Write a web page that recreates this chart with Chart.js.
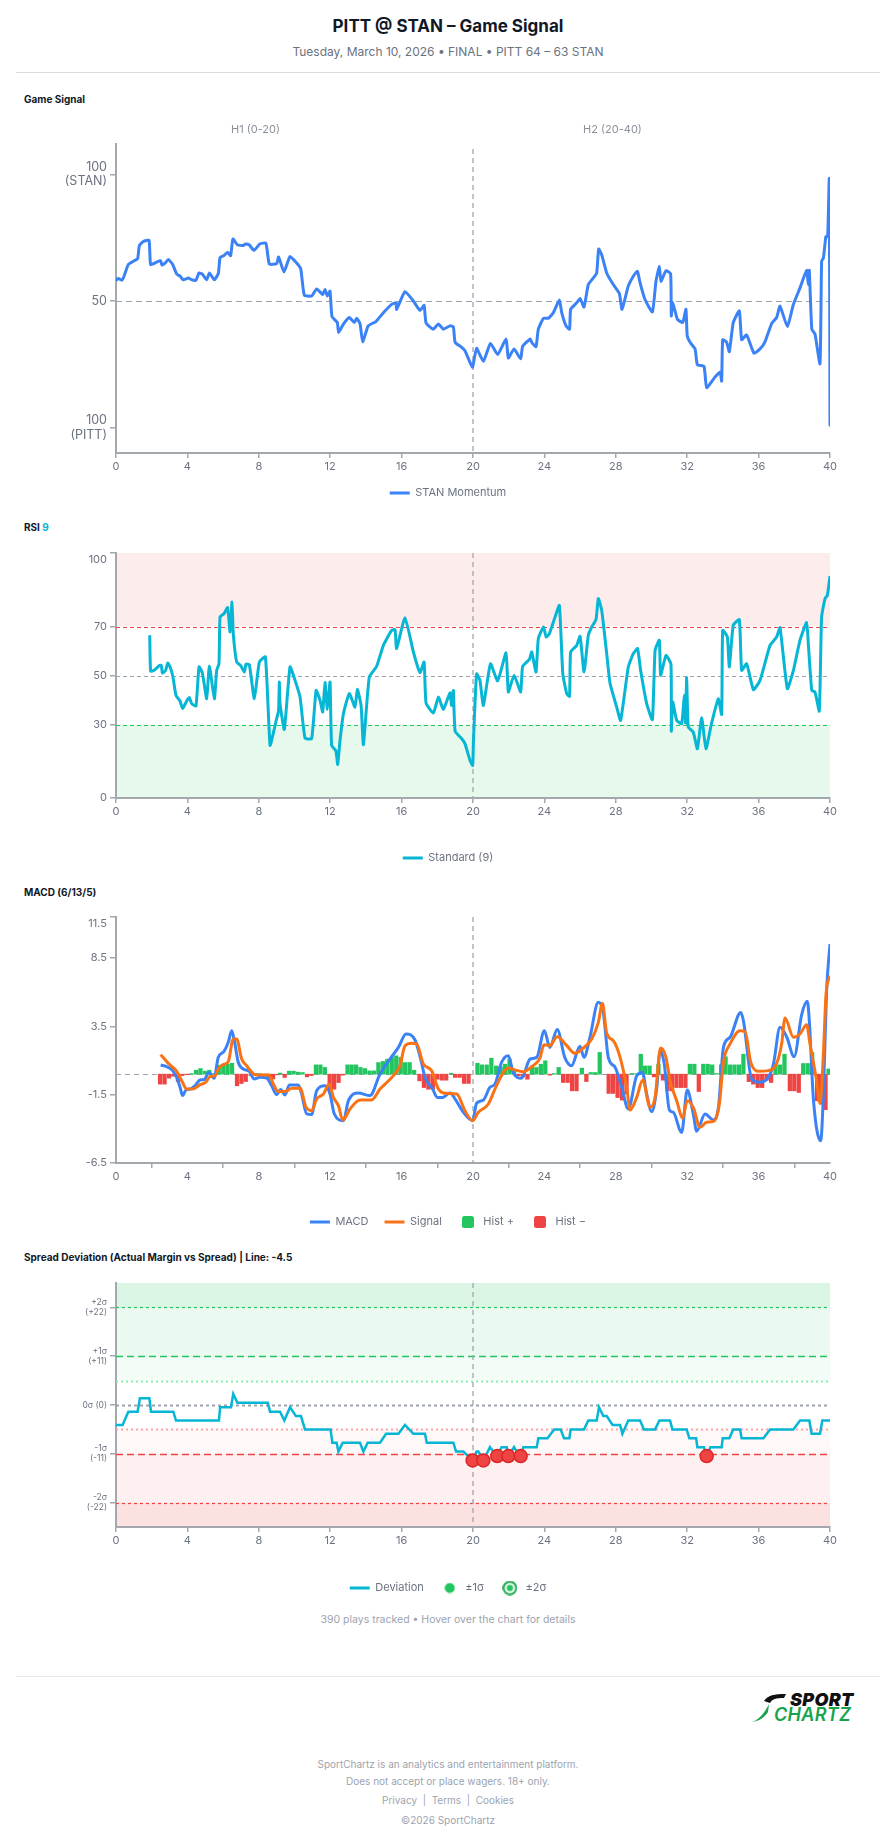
<!DOCTYPE html>
<html>
<head>
<meta charset="utf-8">
<title>PITT @ STAN – Game Signal</title>
<script src="https://cdn.jsdelivr.net/npm/chart.js@4.4.1/dist/chart.umd.min.js"></script>
<style>
  body { margin: 0; background: #fff; font-family: Inter, "Noto Sans", sans-serif; width: 896px; height: 1845px; position: relative; overflow: hidden; color: #111827; }
  .abs { position: absolute; }
  .center { left: 0; width: 896px; text-align: center; }
  .title { top: 16px; font-size: 17px; line-height: 20px; font-weight: 700; }
  .sub { top: 44px; font-size: 12px; line-height: 16px; color: #6b7280; }
  .rule { left: 16px; width: 864px; height: 1px; background: #d9dce1; }
  .label { left: 24px; font-size: 10px; line-height: 14px; font-weight: 700; color: #111827; }
  .chart { left: 0; width: 896px; }
  .note { font-size: 10.5px; line-height: 16px; color: #9ca3af; }
  .foot { font-size: 10px; line-height: 14px; color: #9ca3af; }
  .logo { left: 750px; top: 1692px; width: 124px; height: 32px; }
  .logo .l1 { position: absolute; left: 40px; top: 0; font-size: 18px; line-height: 16px; font-weight: 900; font-style: italic; color: #111; letter-spacing: 0.3px; }
  .logo .l2 { position: absolute; left: 24px; top: 15px; font-size: 18px; line-height: 16px; font-weight: 600; font-style: italic; color: #16a34a; letter-spacing: 0.3px; }
</style>
</head>
<body>
<div class="abs center title">PITT @ STAN – Game Signal</div>
<div class="abs center sub">Tuesday, March 10, 2026 • FINAL • PITT 64 – 63 STAN</div>
<div class="abs rule" style="top:72px"></div>

<div class="abs label" style="top:92px">Game Signal</div>
<div class="abs chart" style="top:110px;height:400px"><canvas id="signal"></canvas></div>

<div class="abs label" style="top:520px">RSI <span style="color:#06b6d4">9</span></div>
<div class="abs chart" style="top:535px;height:340px"><canvas id="rsi"></canvas></div>

<div class="abs label" style="top:885px">MACD (6/13/5)</div>
<div class="abs chart" style="top:900px;height:340px"><canvas id="macd"></canvas></div>

<div class="abs label" style="top:1250px">Spread Deviation (Actual Margin vs Spread) | Line: -4.5</div>
<div class="abs chart" style="top:1265px;height:340px"><canvas id="dev"></canvas></div>

<div class="abs center note" style="top:1612px">390 plays tracked • Hover over the chart for details</div>

<div class="abs rule" style="top:1676px;background:#e5e7eb"></div>
<div class="abs logo">
  <svg width="40" height="32" style="position:absolute;left:0;top:0">
    <path d="M14 9 C18 3 24 2 36 2 L34 6 C26 6 22 7 20 11 Z" fill="#111"/>
    <path d="M19 12 C15 20 10 27 2 30 C9 29 14 26 18 20 Z" fill="#16a34a"/>
  </svg>
  <div class="l1">SPORT</div>
  <div class="l2">CHARTZ</div>
</div>
<div class="abs center foot" style="top:1757px">SportChartz is an analytics and entertainment platform.</div>
<div class="abs center foot" style="top:1774px">Does not accept or place wagers. 18+ only.</div>
<div class="abs center foot" style="top:1793px">Privacy &nbsp;|&nbsp; Terms &nbsp;|&nbsp; Cookies</div>
<div class="abs center foot" style="top:1813px">©2026 SportChartz</div>

<script>
// ---- Game signal (0 = PITT, 100 = STAN) ----
const sigMin = [0, 0.13, 0.32, 0.45, 0.69, 0.97, 1.21, 1.31, 1.53, 1.85, 1.94, 2.28, 2.5, 2.58, 2.75, 2.93, 3.17, 3.4, 3.59, 3.77,
  4.05, 4.24, 4.48, 4.65, 4.84, 5.08, 5.23, 5.51, 5.73, 5.83, 6.05, 6.25, 6.42, 6.55, 6.8, 7.13, 7.26, 7.47, 7.73, 8.07,
  8.4, 8.59, 9.0, 9.11, 9.41, 9.75, 10.12, 10.35, 10.55, 10.96, 11.24, 11.58, 11.71, 11.84, 11.99, 12.1, 12.4, 12.47, 12.74, 13.07,
  13.35, 13.48, 13.67, 13.82, 14.13, 14.56, 14.98, 15.44, 15.69, 15.72, 16.19, 16.66, 17.03, 17.26, 17.37, 17.78, 18.06, 18.34, 18.71, 18.9,
  19.0, 19.37, 19.55, 19.83, 19.98, 20.2, 20.58, 20.98, 21.38, 21.85, 21.98, 22.3, 22.67, 22.78, 23.2, 23.29, 23.53, 23.66, 23.95, 24.22,
  24.5, 24.84, 24.97, 25.21, 25.41, 25.47, 25.81, 26.0, 26.22, 26.46, 26.74, 26.93, 27.04, 27.21, 27.49, 27.86, 28.2, 28.35, 28.7, 28.98,
  29.21, 29.36, 29.63, 30.05, 30.25, 30.44, 30.53, 30.81, 31.07, 31.11, 31.19, 31.45, 31.75, 31.93, 32.0, 32.16, 32.44, 32.57, 32.94, 33.09,
  33.56, 33.84, 33.93, 33.99, 34.21, 34.36, 34.58, 34.92, 35.05, 35.33, 35.74, 36.08, 36.36, 36.73, 37.01, 37.2, 37.61, 37.95, 38.32, 38.69,
  38.79, 38.84, 38.98, 39.16, 39.44, 39.53, 39.63, 39.77, 39.87, 39.96, 40.0];
const sigVal = [58.2, 58.9, 58.2, 59.8, 64.4, 65.7, 66.7, 71.9, 73.5, 74.0, 64.4, 65.4, 65.9, 64.2, 65.0, 66.4, 64.5, 60.7, 59.8, 58.4,
  59.1, 58.4, 58.2, 61.1, 60.6, 58.4, 61.1, 58.4, 60.8, 67.2, 68.0, 69.3, 67.9, 74.5, 72.2, 71.9, 72.5, 72.1, 70.0, 72.6,
  72.8, 64.6, 64.8, 67.4, 61.5, 67.6, 65.0, 62.7, 52.3, 52.0, 54.8, 52.6, 54.6, 52.0, 53.9, 43.9, 41.5, 37.6, 40.9, 43.5,
  41.5, 43.2, 41.1, 33.9, 40.2, 41.9, 45.4, 48.7, 49.3, 46.7, 53.7, 50.0, 46.3, 48.3, 41.3, 38.9, 40.9, 38.9, 40.2, 39.8,
  33.7, 31.7, 30.4, 25.8, 23.9, 31.3, 26.2, 33.3, 28.9, 35.0, 27.5, 31.1, 27.2, 32.1, 35.0, 33.7, 32.0, 38.9, 43.2, 43.2,
  45.4, 50.4, 45.4, 40.2, 38.9, 46.7, 49.3, 51.0, 47.6, 56.5, 59.1, 61.1, 70.5, 68.3, 61.1, 56.5, 53.0, 46.7, 55.9, 59.8,
  61.7, 57.2, 50.7, 45.7, 57.8, 63.7, 57.8, 62.0, 60.8, 44.1, 49.3, 42.8, 41.5, 46.7, 36.3, 33.7, 31.1, 24.8, 24.2, 15.8,
  20.0, 21.9, 18.4, 34.7, 33.7, 30.0, 41.5, 46.1, 34.7, 36.6, 29.4, 31.1, 33.9, 41.1, 43.5, 48.0, 39.9, 48.7, 55.2, 62.1,
  56.5, 62.1, 38.9, 36.9, 25.2, 65.7, 67.0, 75.5, 75.5, 98.3, 1.0];
const sigTicks = [0, 50, 100];
const sigTickLabels = [['100', '(PITT)'], '50', ['100', '(STAN)']];

// ---- RSI (9) ----
const rsiMin = [1.89, 1.94, 2.13, 2.43, 2.54, 2.6, 2.78, 2.9, 3.03, 3.18, 3.36, 3.59, 3.73, 3.96, 4.11, 4.24, 4.48, 4.65, 4.84, 5.08,
  5.23, 5.51, 5.64, 5.77, 5.83, 6.05, 6.25, 6.39, 6.5, 6.57, 6.76, 6.98, 7.19, 7.28, 7.47, 7.75, 8.03, 8.37, 8.63, 8.85,
  9.0, 9.11, 9.15, 9.19, 9.43, 9.75, 10.03, 10.31, 10.59, 10.96, 11.21, 11.43, 11.58, 11.71, 11.84, 11.99, 12.08, 12.32, 12.42, 12.55,
  12.74, 13.07, 13.39, 13.52, 13.73, 13.86, 14.19, 14.6, 14.98, 15.44, 15.63, 15.72, 16.19, 16.66, 17.03, 17.26, 17.37, 17.78, 18.06, 18.34,
  18.71, 18.8, 18.9, 19.0, 19.37, 19.55, 19.83, 19.98, 20.02, 20.2, 20.39, 20.58, 20.98, 21.38, 21.85, 21.98, 22.3, 22.67, 22.78, 23.16,
  23.29, 23.53, 23.66, 23.95, 24.1, 24.28, 24.6, 24.84, 25.03, 25.25, 25.41, 25.47, 25.81, 26.0, 26.22, 26.46, 26.65, 26.89, 27.02, 27.21,
  27.49, 27.68, 28.05, 28.27, 28.7, 28.98, 29.22, 29.39, 29.73, 30.05, 30.2, 30.44, 30.51, 30.81, 31.09, 31.11, 31.19, 31.41, 31.69, 31.84,
  31.91, 31.97, 32.06, 32.34, 32.57, 32.81, 33.05, 33.36, 33.74, 33.93, 33.99, 34.25, 34.36, 34.58, 34.92, 35.05, 35.33, 35.71, 36.08, 36.64,
  37.01, 37.2, 37.61, 37.95, 38.32, 38.69, 38.79, 38.98, 39.16, 39.4, 39.53, 39.72, 39.85, 40.0];
const rsiVal = [66.4, 51.8, 52.1, 54.1, 54.1, 51.0, 52.1, 55.1, 53.5, 49.8, 41.9, 39.6, 36.5, 39.6, 41.0, 38.5, 37.6, 53.5, 51.0, 40.5,
  53.9, 40.5, 52.1, 54.8, 73.9, 75.2, 77.7, 67.8, 80.0, 67.1, 55.5, 54.1, 51.4, 54.6, 54.4, 40.5, 55.5, 57.6, 21.5, 27.6,
  32.4, 35.8, 47.3, 38.5, 28.0, 53.5, 48.0, 41.2, 24.5, 24.2, 43.9, 39.9, 35.1, 47.1, 36.2, 47.3, 21.5, 19.2, 13.7, 23.5,
  34.4, 42.6, 37.1, 44.4, 37.8, 21.8, 49.4, 53.7, 62.3, 68.4, 68.7, 61.0, 73.6, 59.6, 51.2, 55.5, 38.8, 34.7, 41.2, 36.1,
  42.9, 37.8, 43.9, 27.2, 24.2, 22.2, 15.4, 13.3, 22.2, 50.7, 48.0, 37.8, 54.8, 47.8, 59.2, 43.3, 50.1, 43.3, 53.7, 56.6,
  59.6, 51.4, 65.0, 69.8, 65.7, 67.1, 73.9, 78.6, 50.7, 42.6, 41.5, 59.6, 62.3, 66.0, 51.4, 66.4, 69.8, 72.8, 81.4, 76.6,
  58.9, 46.7, 37.1, 31.7, 53.5, 58.9, 61.0, 52.1, 38.5, 32.0, 60.3, 64.4, 50.1, 58.2, 54.6, 27.3, 39.2, 31.7, 30.3, 41.9,
  30.6, 49.1, 29.0, 26.9, 20.1, 32.8, 20.1, 30.3, 40.5, 34.1, 68.4, 65.7, 53.5, 70.5, 72.8, 52.1, 54.8, 44.2, 48.0, 62.3,
  65.7, 69.5, 44.6, 52.1, 64.4, 71.6, 62.3, 43.9, 43.3, 35.5, 73.9, 81.4, 82.7, 90.6];
const rsiTicks = [0, 30, 50, 70, 100];

// ---- MACD (6/13/5) ----
const macdMin = [2.5, 2.84, 3.17, 3.4, 3.59, 3.73, 3.92, 4.15, 4.43, 4.71, 4.93, 5.21, 5.49, 5.73, 6.05, 6.29, 6.48, 6.63, 6.85, 7.13,
  7.47, 7.73, 8.07, 8.44, 8.72, 9.0, 9.22, 9.47, 9.71, 10.21, 10.4, 10.68, 10.96, 11.24, 11.71, 11.99, 12.23, 12.74, 13.02, 13.58,
  14.23, 14.79, 15.35, 15.82, 16.25, 16.75, 17.07, 17.31, 17.74, 18.0, 18.3, 18.71, 19.0, 19.46, 19.98, 20.2, 20.58, 20.95, 21.23, 21.6,
  21.98, 22.25, 22.72, 23.2, 23.57, 24.0, 24.3, 24.72, 25.14, 25.52, 25.99, 26.22, 26.55, 27.02, 27.3, 27.58, 27.96, 28.33, 28.7, 29.17,
  29.49, 29.73, 30.01, 30.3, 30.48, 30.71, 31.0, 31.22, 31.69, 32.0, 32.34, 32.53, 33.0, 33.47, 33.75, 34.03, 34.4, 35.0, 35.15, 35.61,
  36.04, 36.55, 36.83, 37.2, 37.58, 37.99, 38.42, 38.73, 38.84, 39.07, 39.48, 39.63, 39.81, 40.0];
const macdVal = [0.67, 0.55, 0.26, -0.23, -0.96, -1.57, -1.16, -1.09, -0.84, -0.43, -0.4, 0.13, -0.3, 1.23, 1.67, 2.33, 3.18, 2.45, 0.87, 0.38,
  0.21, -0.35, -0.23, -0.28, -0.84, -1.5, -1.13, -1.52, -0.79, -0.79, -1.45, -2.91, -2.96, -1.21, -0.84, -1.45, -2.91, -3.4, -1.94, -1.38,
  -1.57, 0.01, 1.11, 1.96, 2.94, 2.5, 1.11, -0.23, -1.09, -1.7, -1.7, -1.37, -1.82, -2.79, -3.4, -2.13, -1.89, -0.96, -0.72, 0.87,
  1.35, 0.13, -0.3, 1.11, 1.23, 3.18, 1.96, 3.26, 1.23, 0.62, 2.04, 1.23, 2.7, 5.26, 4.52, 1.23, 0.5, -0.96, -2.55, -0.11,
  0.13, -1.45, -2.74, -0.96, 1.72, 0.79, -2.62, -2.79, -4.26, -1.16, -2.91, -4.18, -2.91, -3.35, -2.43, 1.96, 2.7, 4.52, 3.91, -0.35,
  -0.6, -0.23, 0.74, 3.43, 2.7, 1.28, 4.4, 5.33, 3.91, -1.82, -4.87, -1.45, 6.11, 9.52];
const signalMin = [2.5, 2.93, 3.4, 3.68, 3.96, 4.3, 4.71, 5.02, 5.26, 5.55, 5.73, 6.01, 6.29, 6.57, 6.76, 7.04, 7.32, 7.79, 8.25, 8.59,
  8.81, 9.09, 9.47, 9.84, 10.31, 10.65, 10.96, 11.24, 11.62, 11.95, 12.18, 12.46, 12.7, 13.11, 13.67, 14.32, 14.79, 15.54, 15.91, 16.19,
  16.56, 16.84, 17.22, 17.68, 18.06, 18.34, 18.71, 19.09, 19.55, 19.98, 20.3, 20.86, 21.23, 21.7, 21.98, 22.3, 22.82, 23.29, 23.75, 23.98,
  24.3, 24.72, 25.25, 25.71, 26.18, 26.65, 27.02, 27.25, 27.49, 27.86, 28.24, 28.61, 28.8, 29.17, 29.51, 29.92, 30.2, 30.51, 30.81, 31.04,
  31.41, 31.75, 32.0, 32.34, 32.72, 33.09, 33.47, 33.8, 34.03, 34.4, 34.96, 35.24, 35.56, 35.98, 36.55, 37.01, 37.29, 37.48, 37.95, 38.32,
  38.69, 38.88, 39.25, 39.44, 39.63, 39.78, 40.0];
const signalVal = [1.43, 0.79, 0.21, -0.48, -1.09, -1.09, -0.77, -0.6, -0.18, -0.11, 0.38, 0.7, 0.91, 2.57, 2.57, 1.11, 0.62, -0.04, -0.06, -0.06,
  -0.72, -1.26, -1.26, -1.04, -1.01, -2.43, -2.67, -1.82, -1.45, -0.72, -1.7, -2.3, -3.35, -2.55, -1.89, -1.89, -1.09, -0.11, 0.62, 2.08,
  2.26, 2.21, 0.74, 0.26, -1.09, -1.38, -1.42, -1.45, -2.67, -3.4, -2.79, -2.18, -1.09, 0.13, 0.45, 0.33, 0.18, 0.55, 1.18, 2.16,
  2.09, 2.74, 2.09, 1.52, 1.91, 2.57, 3.79, 5.18, 2.99, 2.45, 1.23, -0.96, -2.62, -1.7, -0.43, -2.43, -1.7, 1.91, 1.23, -0.48,
  -1.94, -3.21, -1.94, -2.43, -3.89, -3.52, -3.45, -2.18, 0.87, 2.21, 3.18, 3.13, 0.87, 0.21, 0.26, 0.79, 2.21, 4.11, 2.7, 2.94,
  3.62, 2.21, -0.48, -2.13, 1.48, 5.87, 7.21];
const histMin = [2.47, 2.72, 2.97, 3.22, 3.47, 3.72, 3.97, 4.22, 4.48, 4.73, 4.98, 5.23, 5.48, 5.76, 6.01, 6.25, 6.5, 6.78, 7.03, 7.27,
  7.55, 7.8, 8.05, 8.3, 8.55, 8.8, 9.05, 9.2, 9.45, 9.7, 9.95, 10.2, 10.45, 10.7, 10.95, 11.2, 11.45, 11.7, 11.97, 12.22,
  12.47, 12.7, 12.97, 13.2, 13.45, 13.7, 13.95, 14.2, 14.45, 14.7, 14.95, 15.2, 15.45, 15.7, 15.95, 16.2, 16.45, 16.7, 17.0, 17.25,
  17.5, 17.75, 18.0, 18.25, 18.5, 18.78, 19.0, 19.25, 19.5, 19.75, 20.25, 20.5, 20.77, 21.03, 21.3, 21.55, 21.8, 22.05, 22.3, 22.55,
  22.8, 23.05, 23.3, 23.55, 23.8, 24.05, 24.3, 24.55, 24.8, 25.05, 25.3, 25.55, 25.8, 26.1, 26.35, 26.6, 26.85, 27.1, 27.6, 27.85,
  28.1, 28.35, 28.6, 28.9, 29.15, 29.4, 29.64, 29.89, 30.14, 30.39, 30.64, 30.9, 31.15, 31.4, 31.65, 31.9, 32.15, 32.4, 32.65, 32.9,
  33.15, 33.4, 33.65, 33.9, 34.15, 34.4, 34.65, 34.9, 35.15, 35.45, 35.7, 35.95, 36.2, 36.45, 36.7, 36.95, 37.2, 37.45, 37.75, 38.0,
  38.25, 38.5, 38.75, 39.0, 39.28, 39.5, 39.75, 39.92];
const histVal = [-0.73, -0.73, -0.29, -0.15, -0.55, -0.1, -0.04, 0.04, 0.29, 0.41, 0.22, 0.29, 0.05, 0.66, 0.73, 0.73, 0.8, -0.85, -0.68, -0.54,
  -0.1, 0.05, 0.04, -0.05, -0.3, -0.35, -0.05, 0.08, -0.24, 0.22, 0.22, 0.15, 0.12, -0.2, -0.1, 0.68, 0.68, 0.49, -1.1, -1.1,
  -0.61, -0.07, 0.68, 0.68, 0.68, 0.49, 0.41, 0.24, 0.24, 0.85, 0.93, 1.1, 1.22, 1.34, 1.22, 0.85, 0.85, 0.29, -0.49, -0.98,
  -1.1, -1.1, -0.37, -0.44, -0.44, 0.07, -0.24, -0.24, -0.68, -0.68, 0.8, 0.68, 0.68, 1.17, 0.6, 0.54, 0.73, 1.1, 0.29, -0.12,
  -0.2, -0.37, 0.6, 0.49, 0.73, 0.98, -0.07, 0.05, 0.49, -0.61, -0.61, -1.22, -1.22, 0.44, -0.54, 0.12, 0.12, 1.59, -1.41, -1.41,
  -1.71, -1.9, -1.46, 0.05, 0.03, 1.46, 0.6, 0.6, -0.2, 0.73, -0.44, -1.22, -1.22, -0.98, -0.98, -0.98, 0.73, 0.73, -1.27, 0.73,
  0.73, 0.68, 0.05, 0.68, 1.27, 0.68, 0.68, 0.68, 1.46, -0.54, -0.73, -0.98, -0.98, -0.44, -0.61, 0.68, 0.68, 1.46, -1.22, -1.22,
  -1.34, 0.78, 0.78, 1.59, -1.95, -2.2, -2.6, 0.38];
const macdTicks = [-6.5, -1.5, 3.5, 8.5, 11.5];

// ---- Spread deviation (actual margin minus spread line) ----
const devMin = [0, 0.37, 0.69, 1.21, 1.34, 1.87, 1.96, 3.21, 3.36, 5.77, 5.83, 6.44, 6.57, 6.8, 8.5, 8.63, 9.19, 9.43, 9.75, 10.08,
  10.36, 10.59, 12.02, 12.12, 12.36, 12.46, 12.7, 13.67, 13.86, 14.1, 14.79, 15.13, 15.82, 16.19, 16.66, 17.31, 17.41, 18.9, 19.05, 19.46,
  19.98, 20.2, 20.3, 20.58, 20.95, 21.14, 21.36, 21.6, 21.89, 21.98, 22.3, 22.45, 22.67, 22.82, 23.57, 23.66, 24.17, 24.55, 24.91, 25.1,
  25.4, 25.47, 26.22, 26.46, 26.93, 27.06, 27.3, 27.49, 27.82, 28.24, 28.37, 28.7, 29.36, 29.58, 30.2, 30.44, 31.04, 31.17, 31.97, 32.12,
  32.5, 32.57, 32.94, 33.09, 33.3, 33.93, 33.99, 34.36, 34.58, 34.96, 35.05, 36.27, 36.64, 37.95, 38.32, 38.84, 38.97, 39.44, 39.57, 40.0];
const devVal = [-4.5, -4.5, -1.5, -1.5, 1.5, 1.5, -1.5, -1.5, -3.5, -3.5, -0.5, -0.5, 2.5, 0.5, 0.5, -1.5, -1.5, -3.5, -0.5, -2.5,
  -2.5, -5.5, -5.5, -8.5, -8.5, -10.5, -8.5, -8.5, -10.5, -8.5, -8.5, -6.5, -6.5, -4.5, -6.5, -6.5, -8.5, -8.5, -10.5, -10.5,
  -12.5, -10.5, -10.5, -12.5, -9.5, -10.5, -11.5, -9.5, -9.5, -11.5, -9.5, -10.5, -11.5, -9.5, -9.5, -7.5, -7.5, -5.5, -5.5, -7.5,
  -7.5, -5.5, -5.5, -3.5, -3.5, -0.5, -2.5, -2.5, -4.5, -4.5, -6.5, -3.5, -3.5, -5.5, -5.5, -3.5, -3.5, -5.5, -5.5, -7.5,
  -7.5, -9.5, -9.5, -11.5, -9.5, -9.5, -7.5, -7.5, -5.5, -5.5, -7.5, -7.5, -5.5, -5.5, -3.5, -3.5, -6.5, -6.5, -3.5, -3.5];
// plays beyond -1σ
const breachMin = [19.98, 20.58, 21.36, 21.98, 22.67, 33.09];
const breachVal = [-12.5, -12.5, -11.5, -11.5, -11.5, -11.5];
const devTicks = [-22, -11, 0, 11, 22];
const devTickLabels = [['-2σ', '(-22)'], ['-1σ', '(-11)'], '0σ (0)', ['+1σ', '(+11)'], ['+2σ', '(+22)']];

const BLUE = '#3b82f6', CYAN = '#06b6d4', ORANGE = '#f97316', GREEN = '#22c55e', RED = '#ef4444';
const AXIS = '#a3a7ae', TICK = '#6b7280';
const LEG_PAD = 16, LEG_FONT = 11;

Chart.defaults.font.family = 'Inter, "Noto Sans", sans-serif';
Chart.defaults.color = TICK;
Chart.defaults.animation = false;

const pts = (xs, ys) => xs.map((x, i) => ({ x: x, y: ys[i] }));

// places plot area and legend
function frame(top, height, plotTop, plotBottom, legendCenter) {
  const legendTop = legendCenter - LEG_PAD - LEG_FONT / 2;
  const legendBottom = legendTop + LEG_FONT + LEG_PAD + 10;
  return { padTop: plotTop - top, xHeight: legendTop - plotBottom, padBottom: top + height - legendBottom };
}

function swatch(size, draw) {
  const c = document.createElement('canvas');
  c.width = size; c.height = size;
  draw(c.getContext('2d'), size);
  return c;
}
const boxImg = color => swatch(12, (ctx, s) => {
  ctx.fillStyle = color;
  ctx.beginPath(); ctx.roundRect(0, 0, s, s, 2.5); ctx.fill();
});
const dotImg = swatch(11, (ctx, s) => {
  ctx.fillStyle = GREEN; ctx.beginPath(); ctx.arc(s / 2, s / 2, 5, 0, Math.PI * 2); ctx.fill();
});
const ringImg = swatch(15, (ctx, s) => {
  ctx.strokeStyle = '#16a34a'; ctx.lineWidth = 2;
  ctx.beginPath(); ctx.arc(s / 2, s / 2, 6.3, 0, Math.PI * 2); ctx.stroke();
  ctx.fillStyle = GREEN; ctx.beginPath(); ctx.arc(s / 2, s / 2, 3.2, 0, Math.PI * 2); ctx.fill();
});
const item = (text, style, color, width, index) => ({
  text: text, pointStyle: style, strokeStyle: color, fillStyle: color, lineWidth: width,
  fontColor: TICK, hidden: false, datasetIndex: index
});

// bands, reference lines, halftime marker
const guides = {
  id: 'guides',
  beforeDraw(chart, args, o) {
    const { ctx, chartArea: a, scales: { y } } = chart;
    (o.bands || []).forEach(b => {
      const y1 = y.getPixelForValue(b.to), y2 = y.getPixelForValue(b.from);
      ctx.fillStyle = b.color;
      ctx.fillRect(a.left, y1, a.right - a.left, y2 - y1);
    });
  },
  beforeDatasetsDraw(chart, args, o) {
    const { ctx, chartArea: a, scales: { x, y } } = chart;
    ctx.save();
    (o.lines || []).forEach(l => {
      const py = Math.round(y.getPixelForValue(l.v)) + 0.5;
      ctx.strokeStyle = l.color; ctx.lineWidth = l.width || 1; ctx.setLineDash(l.dash);
      ctx.beginPath(); ctx.moveTo(a.left, py); ctx.lineTo(a.right, py); ctx.stroke();
    });
    if (o.split != null) {
      const px = Math.round(x.getPixelForValue(o.split));
      ctx.strokeStyle = 'rgba(160,165,175,0.65)'; ctx.lineWidth = 2; ctx.setLineDash([5, 4]);
      ctx.beginPath(); ctx.moveTo(px, a.top + (o.splitInset || 0)); ctx.lineTo(px, a.bottom); ctx.stroke();
    }
    ctx.restore();
  },
  afterDraw(chart, args, o) {
    if (!o.halves) return;
    const { ctx, chartArea: a } = chart;
    const w = a.right - a.left;
    ctx.save();
    ctx.fillStyle = '#8b919a'; ctx.font = '11px Inter, sans-serif';
    ctx.textAlign = 'center'; ctx.textBaseline = 'middle';
    ctx.fillText(o.halves[0], a.left + w * 0.25 - 39, 20);
    ctx.fillText(o.halves[1], a.left + w * 0.75 - 39, 20);
    ctx.restore();
  }
};

function xAxis(f) {
  return {
    type: 'linear', min: 0, max: 40, offset: false,
    ticks: { stepSize: 4, autoSkip: false, maxRotation: 0, padding: 2, font: { size: 11 }, color: TICK },
    grid: { drawOnChartArea: false, drawTicks: true, tickLength: 5, color: AXIS, lineWidth: 1.5 },
    border: { color: AXIS, width: 2 },
    afterFit: s => { s.height = f.xHeight; }
  };
}
function yAxis(min, max, ticks, label, fontSize) {
  return {
    type: 'linear', position: 'left', min: min, max: max,
    afterBuildTicks: s => { s.ticks = ticks.map(v => ({ value: v })); },
    ticks: { callback: label, padding: 3, font: { size: fontSize, lineHeight: 1.15 }, color: TICK },
    grid: { drawOnChartArea: false, drawTicks: true, tickLength: 6, color: AXIS, lineWidth: 1.5 },
    border: { color: AXIS, width: 2 },
    afterFit: s => { s.width = 116; }
  };
}
const padAxis = {
  type: 'linear', position: 'right', display: true,
  ticks: { display: false }, grid: { display: false }, border: { display: false },
  afterFit: s => { s.width = 66; }
};
function legend(extra) {
  return {
    position: 'bottom',
    labels: Object.assign({ usePointStyle: true, pointStyleWidth: 20, padding: LEG_PAD, font: { size: LEG_FONT }, color: TICK }, extra || {})
  };
}
function baseOptions(f) {
  return {
    responsive: true, maintainAspectRatio: false, devicePixelRatio: 1,
    layout: { padding: { top: f.padTop, bottom: f.padBottom, left: 0, right: 0 } },
    events: []
  };
}
// lifts the top tick label half a line, like the reference
const topShift = (v, max) => (v === max ? ['', String(v)] : String(v));

// ---- chart 1: game signal ----
const f1 = frame(110, 400, 144, 453, 493);
new Chart(document.getElementById('signal'), {
  type: 'line',
  data: { datasets: [{
    label: 'STAN Momentum', data: pts(sigMin, sigVal),
    borderColor: BLUE, backgroundColor: BLUE, borderWidth: 3, pointRadius: 0, pointStyle: 'line',
    tension: 0.15, borderJoinStyle: 'round', borderCapStyle: 'round'
  }] },
  options: Object.assign(baseOptions(f1), {
    scales: {
      x: xAxis(f1),
      y: yAxis(-10, 112, sigTicks, v => sigTickLabels[sigTicks.indexOf(v)], 12.5),
      pad: padAxis
    },
    plugins: {
      legend: legend(),
      tooltip: { enabled: false },
      guides: { lines: [{ v: 50, color: '#9ca3af', dash: [6, 4], width: 1 }], split: 20, splitInset: 5, halves: ['H1 (0-20)', 'H2 (20-40)'] }
    }
  }),
  plugins: [guides]
});

// ---- chart 2: RSI ----
const f2 = frame(535, 340, 553, 798, 858);
new Chart(document.getElementById('rsi'), {
  type: 'line',
  data: { datasets: [{
    label: 'Standard (9)', data: pts(rsiMin, rsiVal),
    borderColor: CYAN, backgroundColor: CYAN, borderWidth: 3, pointRadius: 0, pointStyle: 'line',
    tension: 0.15, borderJoinStyle: 'round'
  }] },
  options: Object.assign(baseOptions(f2), {
    scales: {
      x: xAxis(f2),
      y: yAxis(0, 100, rsiTicks, v => topShift(v, 100), 11),
      pad: padAxis
    },
    plugins: {
      legend: legend(),
      tooltip: { enabled: false },
      guides: {
        bands: [{ from: 70, to: 100, color: 'rgba(239,68,68,0.10)' }, { from: 0, to: 30, color: 'rgba(34,197,94,0.11)' }],
        lines: [
          { v: 70, color: RED, dash: [4, 3], width: 1.2 },
          { v: 50, color: '#9ca3af', dash: [4, 3], width: 1.2 },
          { v: 30, color: GREEN, dash: [4, 3], width: 1.2 }
        ],
        split: 20
      }
    }
  }),
  plugins: [guides]
});

// ---- chart 3: MACD ----
const f3 = frame(900, 340, 917, 1163, 1222);
new Chart(document.getElementById('macd'), {
  type: 'line',
  data: { datasets: [
    { label: 'MACD', data: pts(macdMin, macdVal), borderColor: BLUE, borderWidth: 3, pointRadius: 0,
      cubicInterpolationMode: 'monotone', order: 1 },
    { label: 'Signal', data: pts(signalMin, signalVal), borderColor: ORANGE, borderWidth: 3, pointRadius: 0,
      cubicInterpolationMode: 'monotone', order: 0 },
    { type: 'bar', label: 'Hist', data: pts(histMin, histVal), barThickness: 3.6, order: 2,
      backgroundColor: c => (c.raw && c.raw.y < 0 ? RED : GREEN) }
  ] },
  options: Object.assign(baseOptions(f3), {
    scales: {
      x: xAxis(f3),
      y: yAxis(-6.5, 11.5, macdTicks, v => topShift(v, 11.5), 11),
      pad: padAxis
    },
    plugins: {
      legend: legend({ generateLabels: () => [
        item('MACD', 'line', BLUE, 3, 0),
        item('Signal', 'line', ORANGE, 3, 1),
        item('Hist +', boxImg(GREEN), GREEN, 0, 2),
        item('Hist −', boxImg(RED), RED, 0, 2)
      ] }),
      tooltip: { enabled: false },
      guides: { lines: [{ v: 0, color: '#9ca3af', dash: [5, 4], width: 1 }], split: 20 }
    }
  }),
  plugins: [guides]
});

// ---- chart 4: spread deviation ----
const f4 = frame(1265, 340, 1283, 1527, 1588);
new Chart(document.getElementById('dev'), {
  type: 'line',
  data: { datasets: [
    { label: 'Deviation', data: pts(devMin, devVal), borderColor: CYAN, borderWidth: 2.5, pointRadius: 0, tension: 0, order: 1 },
    { label: 'Beyond 1σ', data: pts(breachMin, breachVal), showLine: false, pointRadius: 6.5,
      pointBackgroundColor: RED, pointBorderColor: '#dc2626', pointBorderWidth: 1.5, order: 0 }
  ] },
  options: Object.assign(baseOptions(f4), {
    scales: {
      x: xAxis(f4),
      y: yAxis(-27.5, 27.5, devTicks, v => devTickLabels[devTicks.indexOf(v)], 8.5),
      pad: padAxis
    },
    plugins: {
      legend: legend({ generateLabels: () => [
        item('Deviation', 'line', CYAN, 3, 0),
        item('±1σ', dotImg, GREEN, 0, 1),
        item('±2σ', ringImg, GREEN, 0, 1)
      ] }),
      tooltip: { enabled: false },
      guides: {
        bands: [
          { from: 22, to: 27.5, color: 'rgba(34,197,94,0.17)' },
          { from: 11, to: 22, color: 'rgba(34,197,94,0.09)' },
          { from: 5.5, to: 11, color: 'rgba(34,197,94,0.05)' },
          { from: -11, to: -5.5, color: 'rgba(239,68,68,0.04)' },
          { from: -22, to: -11, color: 'rgba(239,68,68,0.08)' },
          { from: -27.5, to: -22, color: 'rgba(239,68,68,0.16)' }
        ],
        lines: [
          { v: 22, color: GREEN, dash: [3, 3], width: 1.2 },
          { v: 11, color: GREEN, dash: [7, 4], width: 1.4 },
          { v: 5.5, color: '#86efac', dash: [2, 3], width: 2 },
          { v: 0, color: '#9ca3af', dash: [3, 3], width: 2 },
          { v: -5.5, color: '#fca5a5', dash: [2, 3], width: 2 },
          { v: -11, color: RED, dash: [7, 4], width: 1.4 },
          { v: -22, color: RED, dash: [3, 3], width: 1.2 }
        ],
        split: 20
      }
    }
  }),
  plugins: [guides]
});
</script>
</body>
</html>
